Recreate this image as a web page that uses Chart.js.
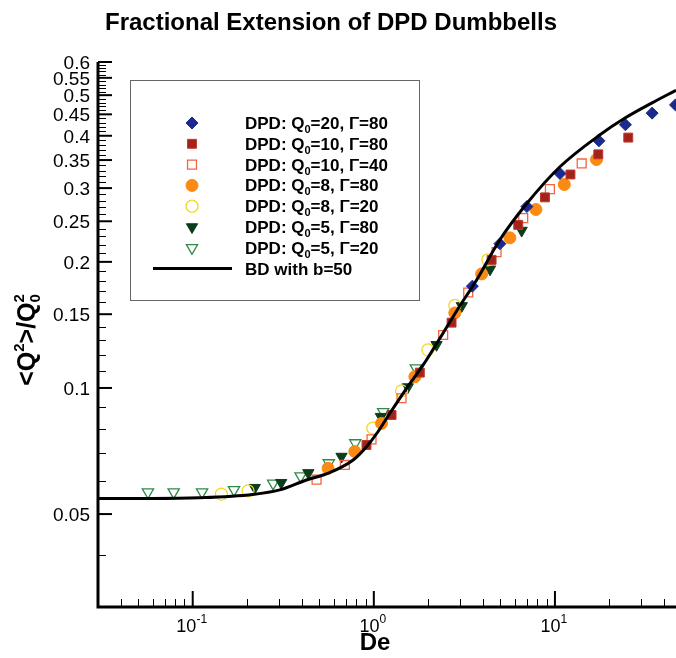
<!DOCTYPE html>
<html>
<head>
<meta charset="utf-8">
<script src="https://cdn.jsdelivr.net/npm/chart.js@4.4.1/dist/chart.umd.min.js"></script>
<style>
  html, body { margin: 0; padding: 0; background: #fff; overflow: hidden; }
</style>
</head>
<body>
<canvas id="grafica" width="676" height="658"></canvas>
<script>
// TEXTOS
const titulo = "Fractional Extension of DPD Dumbbells";
const tituloX = "De";
const etiquetas = [
  "DPD: Q₀=20, Γ=80",
  "DPD: Q₀=10, Γ=80",
  "DPD: Q₀=10, Γ=40",
  "DPD: Q₀=8, Γ=80",
  "DPD: Q₀=8, Γ=20",
  "DPD: Q₀=5, Γ=80",
  "DPD: Q₀=5, Γ=20",
  "BD with b=50"
];

// DATOS (De, <Q^2>/Q0^2)
const deQ20G80 = [3.5, 4.97, 7.0, 10.66, 17.5, 24.5, 34.4, 46.3];
const qQ20G80  = [0.175, 0.221, 0.271, 0.325, 0.389, 0.425, 0.453, 0.474];

const deQ10G80 = [0.911, 1.253, 1.795, 2.687, 4.47, 6.27, 8.81, 12.18, 17.35, 25.4];
const qQ10G80  = [0.0731, 0.0862, 0.1088, 0.1432, 0.2022, 0.2451, 0.2851, 0.3233, 0.3612, 0.396];

const deQ10G40 = [0.483, 0.692, 0.971, 1.422, 2.415, 3.32, 4.76, 6.68, 9.38, 14.05];
const qQ10G40  = [0.0604, 0.0655, 0.0754, 0.0945, 0.1338, 0.169, 0.211, 0.2543, 0.2983, 0.3435];

const deQ8G80 = [0.559, 0.785, 1.103, 1.685, 2.80, 3.94, 5.64, 7.85, 11.26, 16.96];
const qQ8G80  = [0.0643, 0.0705, 0.0823, 0.1064, 0.151, 0.1872, 0.2282, 0.2667, 0.306, 0.351];

const deQ8G20 = [0.144, 0.202, 0.987, 1.422, 1.988, 2.80, 4.26];
const qQ8G20  = [0.0558, 0.0568, 0.0802, 0.0984, 0.1233, 0.1574, 0.2023];

const deQ5G80 = [0.220, 0.308, 0.435, 0.663, 1.093, 1.541, 2.22, 3.06, 4.38, 6.55];
const qQ5G80  = [0.0578, 0.0594, 0.0627, 0.0686, 0.0854, 0.1005, 0.1268, 0.157, 0.192, 0.2376];

const deQ5G20 = [0.0566, 0.0785, 0.1126, 0.169, 0.278, 0.394, 0.564, 0.79, 1.126, 1.706];
const qQ5G20  = [0.0564, 0.0564, 0.0564, 0.0571, 0.0592, 0.0616, 0.0662, 0.0739, 0.0877, 0.1115];

const deBD = [0.03, 0.058, 0.109, 0.2145, 0.3024, 0.4247, 0.5714, 0.7687, 0.911, 1.052, 1.226, 1.516,
              1.873, 2.316, 2.911, 3.693, 4.967, 6.975, 10.66, 17.73, 24.36, 34.2, 46.6];
const qBD  = [0.0545, 0.0545, 0.0547, 0.0557, 0.0571, 0.0603, 0.0628, 0.0673, 0.0724, 0.0785, 0.087, 0.0998,
              0.1135, 0.1314, 0.1544, 0.1811, 0.2258, 0.2752, 0.3373, 0.4022, 0.4409, 0.4787, 0.5136];

// EJES
const rangoX = [0.03, 46.6];
const rangoY = [0.03, 0.6];
const ticksXMayores = [0.1, 1, 10];
const ticksXMenores = [0.04, 0.05, 0.06, 0.07, 0.08, 0.09, 0.2, 0.3, 0.4, 0.5, 0.6, 0.7, 0.8, 0.9,
                       2, 3, 4, 5, 6, 7, 8, 9, 20, 30, 40];
const ticksYMayores = [0.05, 0.1, 0.15, 0.2, 0.25, 0.3, 0.35, 0.4, 0.45, 0.5, 0.55, 0.6];
const ticksYMenores = [0.04, 0.06, 0.07, 0.08, 0.09, 0.11, 0.12, 0.13, 0.14, 0.16, 0.17, 0.18, 0.19,
                       0.21, 0.22, 0.23, 0.24, 0.26, 0.27, 0.28, 0.29, 0.31, 0.32, 0.33, 0.34,
                       0.36, 0.37, 0.38, 0.39, 0.41, 0.42, 0.43, 0.44, 0.46, 0.47, 0.48, 0.49,
                       0.51, 0.52, 0.53, 0.54, 0.56, 0.57, 0.58, 0.59];

const fuente = '"Liberation Sans", Arial, Helvetica, sans-serif';

function puntos(xs, ys) {
  return xs.map((x, i) => ({ x: x, y: ys[i] }));
}

// texto con subindices / superindices (centrado)
function dibujarRico(ctx, partes, x, y) {
  let total = 0;
  partes.forEach(p => {
    ctx.font = p.f;
    p.w = ctx.measureText(p.t).width;
    if (!p.pila) total += p.w;
  });
  let cx = x - total / 2;
  partes.forEach(p => {
    ctx.font = p.f;
    ctx.fillText(p.t, cx, y + (p.dy || 0));
    if (!p.pila) cx += p.w;
  });
}

function partesEtiqueta(txt) {
  let trozos = txt.split("₀");
  let partes = [];
  trozos.forEach((t, i) => {
    if (i > 0) partes.push({ t: "0", f: "bold 11px " + fuente, dy: 4 });
    partes.push({ t: t, f: "bold 17px " + fuente });
  });
  return partes;
}

function dibujarIzq(ctx, partes, x, y) {
  let cx = x;
  partes.forEach(p => {
    ctx.font = p.f;
    ctx.fillText(p.t, cx, y + (p.dy || 0));
    cx += ctx.measureText(p.t).width;
  });
}

const pluginEjes = {
  id: "ejes",
  afterDraw(chart) {
    const { ctx, chartArea: a } = chart;
    const sx = chart.scales.x, sy = chart.scales.y;
    ctx.save();
    ctx.fillStyle = "#000";
    ctx.strokeStyle = "#000";

    // marcas Y hacia dentro
    ticksYMenores.forEach(v => {
      let py = Math.round(sy.getPixelForValue(v)) + 0.5;
      ctx.lineWidth = 1;
      ctx.beginPath(); ctx.moveTo(a.left, py); ctx.lineTo(a.left + 8, py); ctx.stroke();
    });
    ctx.textAlign = "right";
    ticksYMayores.forEach(v => {
      let py = sy.getPixelForValue(v);
      ctx.lineWidth = 2;
      ctx.beginPath(); ctx.moveTo(a.left, py); ctx.lineTo(a.left + 14, py); ctx.stroke();
      ctx.font = "19px " + fuente;
      ctx.fillText(String(v), a.left - 8, py + 7);
    });

    // marcas X hacia dentro
    ticksXMenores.forEach(v => {
      let px = Math.round(sx.getPixelForValue(v)) + 0.5;
      ctx.lineWidth = 1;
      ctx.beginPath(); ctx.moveTo(px, a.bottom); ctx.lineTo(px, a.bottom - 8); ctx.stroke();
    });
    ctx.textAlign = "left";
    ticksXMayores.forEach(v => {
      let px = sx.getPixelForValue(v);
      ctx.lineWidth = 2;
      ctx.beginPath(); ctx.moveTo(px, a.bottom); ctx.lineTo(px, a.bottom - 16); ctx.stroke();
      let exp = String(Math.round(Math.log10(v)));
      dibujarRico(ctx, [
        { t: "10", f: "18px " + fuente },
        { t: exp, f: "12px " + fuente, dy: -9 }
      ], px - 1, 632);
    });

    // lineas de ejes
    ctx.lineWidth = 3;
    ctx.beginPath();
    ctx.moveTo(a.left, a.top);
    ctx.lineTo(a.left, a.bottom);
    ctx.lineTo(a.right + 2, a.bottom);
    ctx.stroke();

    // titulos
    ctx.textAlign = "left";
    ctx.font = "bold 24px " + fuente;
    let wT = ctx.measureText(titulo).width;
    ctx.fillText(titulo, 331 - wT / 2, 30);
    ctx.font = "bold 24px " + fuente;
    let wX = ctx.measureText(tituloX).width;
    ctx.fillText(tituloX, 375 - wX / 2, 650);

    ctx.save();
    ctx.translate(35, 340);
    ctx.rotate(-Math.PI / 2);
    dibujarRico(ctx, [
      { t: "<Q", f: "bold 25px " + fuente },
      { t: "2", f: "bold 15px " + fuente, dy: -11 },
      { t: ">/Q", f: "bold 25px " + fuente },
      { t: "0", f: "bold 15px " + fuente, dy: 5, pila: true },
      { t: "2", f: "bold 15px " + fuente, dy: -11 }
    ], 0, 0);
    ctx.restore();

    // leyenda
    ctx.fillStyle = "#fff";
    ctx.fillRect(130, 80, 289, 220);
    ctx.strokeStyle = "#666";
    ctx.lineWidth = 1;
    ctx.strokeRect(130.5, 80.5, 289, 220);
    chart.data.datasets.forEach((ds, i) => {
      let y = 123 + i * 20.8;
      if (ds.showLine) {
        ctx.strokeStyle = ds.borderColor;
        ctx.lineWidth = ds.borderWidth;
        ctx.beginPath(); ctx.moveTo(153, y); ctx.lineTo(232, y); ctx.stroke();
      } else {
        ctx.fillStyle = ds.backgroundColor;
        ctx.strokeStyle = ds.borderColor;
        ctx.lineWidth = ds.pointBorderWidth;
        Chart.helpers.drawPoint(ctx, {
          pointStyle: ds.pointStyle,
          rotation: ds.pointRotation || 0,
          radius: ds.pointRadius,
          borderWidth: ds.pointBorderWidth
        }, 192, y);
      }
      ctx.fillStyle = "#000";
      dibujarIzq(ctx, partesEtiqueta(ds.label), 245, y + 6);
    });

    ctx.restore();
  }
};

function serie(i, xs, ys, estilo) {
  return Object.assign({
    label: etiquetas[i],
    data: puntos(xs, ys),
    showLine: false
  }, estilo);
}

const datasets = [
  serie(0, deQ20G80, qQ20G80, { pointStyle: "rectRot", pointRadius: 6, backgroundColor: "#1b2a8f", borderColor: "#1b2a8f", pointBorderWidth: 1 }),
  serie(1, deQ10G80, qQ10G80, { pointStyle: "rect", pointRadius: 6.3, backgroundColor: "#a3231b", borderColor: "#c0392b", pointBorderWidth: 1 }),
  serie(2, deQ10G40, qQ10G40, { pointStyle: "rect", pointRadius: 6.3, backgroundColor: "rgba(0,0,0,0)", borderColor: "#f2653f", pointBorderWidth: 1.3 }),
  serie(3, deQ8G80, qQ8G80, { pointStyle: "circle", pointRadius: 6, backgroundColor: "#fa8a12", borderColor: "#fa8a12", pointBorderWidth: 1 }),
  serie(4, deQ8G20, qQ8G20, { pointStyle: "circle", pointRadius: 6, backgroundColor: "rgba(0,0,0,0)", borderColor: "#f5d71c", pointBorderWidth: 1.3 }),
  serie(5, deQ5G80, qQ5G80, { pointStyle: "triangle", pointRotation: 180, pointRadius: 6.5, backgroundColor: "#0b3d1a", borderColor: "#0b3d1a", pointBorderWidth: 1 }),
  serie(6, deQ5G20, qQ5G20, { pointStyle: "triangle", pointRotation: 180, pointRadius: 6.5, backgroundColor: "rgba(0,0,0,0)", borderColor: "#2f8a4a", pointBorderWidth: 1.3 }),
  {
    type: "line",
    label: etiquetas[7],
    data: puntos(deBD, qBD),
    showLine: true,
    borderColor: "#000",
    borderWidth: 3,
    pointRadius: 0,
    fill: false,
    cubicInterpolationMode: "monotone",
    order: -1
  }
];

let ctx = document.getElementById("grafica").getContext("2d");

new Chart(ctx, {
  type: "scatter",
  data: { datasets: datasets },
  options: {
    responsive: false,
    animation: false,
    events: [],
    layout: { autoPadding: false, padding: { left: 98, top: 62, right: 0, bottom: 51 } },
    plugins: {
      legend: { display: false },
      title: { display: false },
      tooltip: { enabled: false }
    },
    scales: {
      x: { type: "logarithmic", min: rangoX[0], max: rangoX[1], display: false },
      y: { type: "logarithmic", min: rangoY[0], max: rangoY[1], display: false }
    }
  },
  plugins: [pluginEjes]
});
</script>
</body>
</html>
